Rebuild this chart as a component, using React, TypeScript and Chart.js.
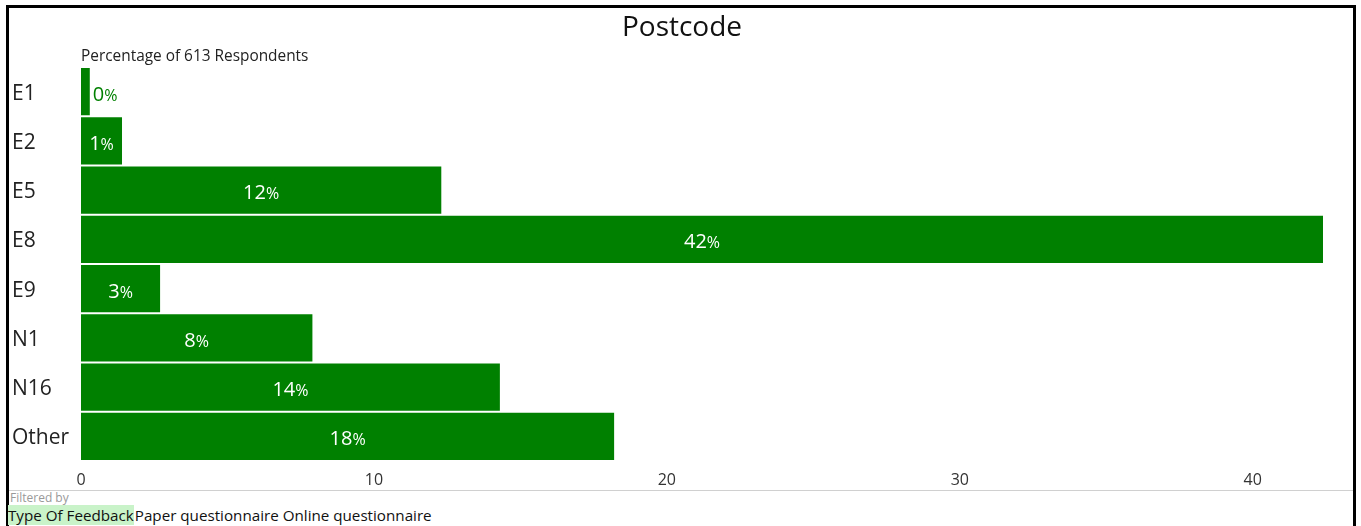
import React, { useEffect, useRef } from "react";
import { Chart, registerables } from "chart.js";

Chart.register(...registerables);

const categories = ["E1", "E2", "E5", "E8", "E9", "N1", "N16", "Other"];
const percentages = [0.3, 1.4, 12.3, 42.4, 2.7, 7.9, 14.3, 18.2];
const xTicks = [0, 10, 20, 30, 40];
const titleText = "Postcode";
const subtitleText = "Percentage of 613 Respondents";
const filterLabel = "Type Of Feedback";
const filterValues = "Paper questionnaire Online questionnaire";

const GREEN = "#008000";
const FONT = "'Open Sans', 'Noto Sans', sans-serif";

const overlayPlugin = {
  id: "overlay",
  afterDraw(chart: any) {
    const ctx = chart.ctx;
    const area = chart.chartArea;
    ctx.save();
    // title
    ctx.fillStyle = "#111";
    ctx.font = `28px ${FONT}`;
    ctx.textAlign = "center";
    ctx.textBaseline = "middle";
    ctx.fillText(titleText, chart.width / 2 + 2, 21);
    // subtitle
    ctx.font = `15.4px ${FONT}`;
    ctx.textAlign = "left";
    ctx.fillStyle = "#222";
    ctx.fillText(subtitleText, area.left, 50);
    // data labels
    const meta = chart.getDatasetMeta(0);
    meta.data.forEach((bar: any, i: number) => {
      const v = percentages[i];
      const num = String(Math.round(v));
      ctx.font = `20px ${FONT}`;
      const wNum = ctx.measureText(num).width;
      ctx.font = `16px ${FONT}`;
      const wPct = ctx.measureText("%").width;
      const total = wNum + wPct;
      const barW = bar.x - bar.base;
      let x0: number;
      let color: string;
      if (barW > total + 8) {
        x0 = bar.base + barW / 2 - total / 2;
        color = "#ffffff";
      } else {
        x0 = bar.x + 3;
        color = GREEN;
      }
      ctx.fillStyle = color;
      ctx.textAlign = "left";
      ctx.textBaseline = "alphabetic";
      ctx.font = `20px ${FONT}`;
      ctx.fillText(num, x0, bar.y + 9);
      ctx.font = `16px ${FONT}`;
      ctx.fillText("%", x0 + wNum, bar.y + 9);
    });
    ctx.restore();
  },
};

function App() {
  const ref = useRef<HTMLCanvasElement | null>(null);
  useEffect(() => {
    if (!ref.current) return;
    const chart = new Chart(ref.current, {
      type: "bar",
      data: {
        labels: categories,
        datasets: [
          {
            data: percentages,
            backgroundColor: GREEN,
            borderWidth: 0,
            categoryPercentage: 1,
            barPercentage: 0.96,
          },
        ],
      },
      options: {
        indexAxis: "y",
        animation: false,
        responsive: false,
        maintainAspectRatio: false,
        layout: { padding: { top: 60, right: 29, left: 4, bottom: 0 } },
        plugins: {
          legend: { display: false },
          tooltip: { enabled: false },
          title: { display: false },
        },
        scales: {
          x: {
            type: "linear",
            min: 0,
            bounds: "data",
            grid: { display: false },
            border: { display: false },
            afterBuildTicks(scale: any) {
              scale.ticks = xTicks.map((v) => ({ value: v }));
            },
            afterFit(scale: any) {
              scale.height = 28;
            },
            ticks: {
              color: "#333",
              font: { family: FONT, size: 16 },
              padding: 2,
            },
          },
          y: {
            grid: { display: false },
            border: { display: false },
            afterFit(scale: any) {
              scale.width = 69;
            },
            ticks: {
              crossAlign: "far",
              color: "#222",
              font: { family: FONT, size: 21 },
              padding: 4,
              labelOffset: 2,
            },
          },
        },
      },
      plugins: [overlayPlugin],
    });
    return () => chart.destroy();
  }, []);

  return (
    <div
      style={{
        position: "absolute",
        left: 6,
        top: 5,
        width: 1350,
        height: 540,
        border: "3px solid #000",
        boxSizing: "border-box",
        background: "#fff",
        fontFamily: FONT,
      }}
    >
      <canvas
        ref={ref}
        width={1344}
        height={482}
        style={{ position: "absolute", left: -1, top: -1, width: 1344, height: 482 }}
      />
      <div
        style={{
          position: "absolute",
          left: 0,
          top: 482,
          width: 1344,
          height: 1,
          background: "#d0d0d0",
        }}
      />
      <div
        style={{
          position: "absolute",
          left: 1,
          top: 483,
          fontSize: 12,
          color: "#999",
          lineHeight: "14px",
        }}
      >
        Filtered by
      </div>
      <div
        style={{
          position: "absolute",
          left: -1,
          top: 498,
          fontSize: 15.2,
          lineHeight: "19px",
          color: "#111",
          whiteSpace: "nowrap",
        }}
      >
        <span style={{ background: "#c9f3c9" }}>{filterLabel}</span>
        <span style={{ marginLeft: 1 }}>{filterValues}</span>
      </div>
    </div>
  );
}

export default App;
